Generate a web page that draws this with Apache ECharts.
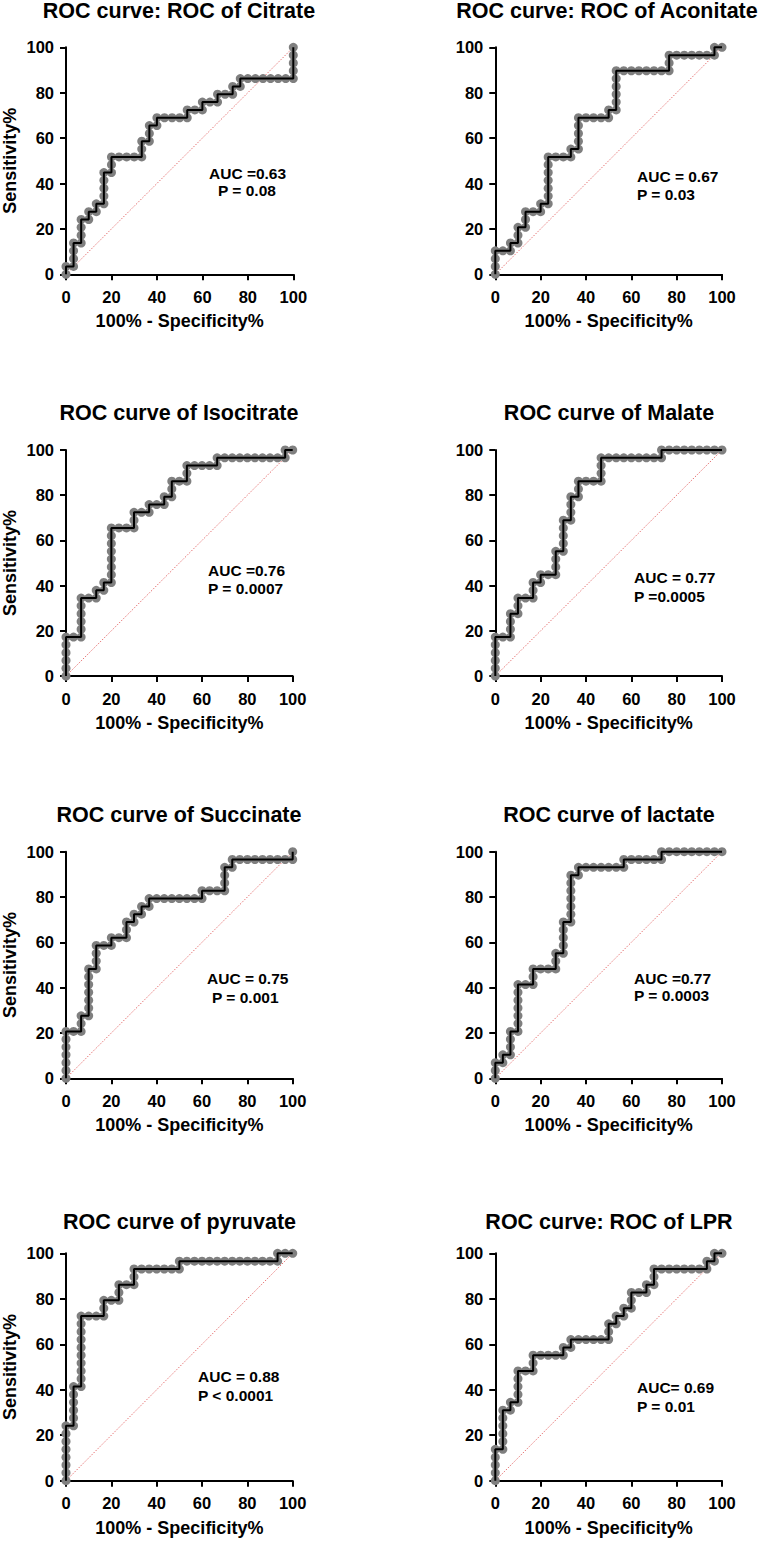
<!DOCTYPE html>
<html>
<head>
<meta charset="utf-8">
<script src="https://cdn.jsdelivr.net/npm/echarts@6/dist/echarts.min.js"></script>
<style>
html,body{margin:0;padding:0;background:#ffffff;}
#chart{width:760px;height:1542px;}
</style>
</head>
<body>
<div id="chart"></div>
<script>
// ---------------- DATA ----------------
const panelTitles = [
  'ROC curve: ROC of Citrate', 'ROC curve: ROC of Aconitate',
  'ROC curve of Isocitrate', 'ROC curve of Malate',
  'ROC curve of Succinate', 'ROC curve of lactate',
  'ROC curve of pyruvate', 'ROC curve: ROC of LPR'
];
const aucLabels = ['AUC =0.63', 'AUC = 0.67', 'AUC =0.76', 'AUC = 0.77', 'AUC = 0.75', 'AUC =0.77', 'AUC = 0.88', 'AUC= 0.69'];
const pLabels = ['P = 0.08', 'P = 0.03', 'P = 0.0007', 'P =0.0005', 'P = 0.001', 'P = 0.0003', 'P < 0.0001', 'P = 0.01'];
const xAxisName = '100% - Specificity%';
const yAxisName = 'Sensitivity%';

// [100% - Specificity%, Sensitivity%]
const citrate = [[0,0],[0,3.45],[3.33,3.45],[3.33,6.9],[3.33,10.34],[3.33,13.79],[6.67,13.79],[6.67,17.24],[6.67,20.69],[6.67,24.14],[10,24.14],[10,27.59],[13.33,27.59],[13.33,31.03],[16.67,31.03],[16.67,34.48],[16.67,37.93],[16.67,41.38],[16.67,44.83],[20,44.83],[20,48.28],[20,51.72],[23.33,51.72],[26.67,51.72],[30,51.72],[33.33,51.72],[33.33,55.17],[33.33,58.62],[36.67,58.62],[36.67,62.07],[36.67,65.52],[40,65.52],[40,68.97],[43.33,68.97],[46.67,68.97],[50,68.97],[53.33,68.97],[53.33,72.41],[56.67,72.41],[60,72.41],[60,75.86],[63.33,75.86],[66.67,75.86],[66.67,79.31],[70,79.31],[73.33,79.31],[73.33,82.76],[76.67,82.76],[76.67,86.21],[80,86.21],[83.33,86.21],[86.67,86.21],[90,86.21],[93.33,86.21],[96.67,86.21],[100,86.21],[100,89.66],[100,93.1],[100,96.55],[100,100]];

const aconitate = [[0,0],[0,3.45],[0,6.9],[0,10.34],[3.33,10.34],[6.67,10.34],[6.67,13.79],[10,13.79],[10,17.24],[10,20.69],[13.33,20.69],[13.33,24.14],[13.33,27.59],[16.67,27.59],[20,27.59],[20,31.03],[23.33,31.03],[23.33,34.48],[23.33,37.93],[23.33,41.38],[23.33,44.83],[23.33,48.28],[23.33,51.72],[26.67,51.72],[30,51.72],[33.33,51.72],[33.33,55.17],[36.67,55.17],[36.67,58.62],[36.67,62.07],[36.67,65.52],[36.67,68.97],[40,68.97],[43.33,68.97],[46.67,68.97],[50,68.97],[50,72.41],[53.33,72.41],[53.33,75.86],[53.33,79.31],[53.33,82.76],[53.33,86.21],[53.33,89.66],[56.67,89.66],[60,89.66],[63.33,89.66],[66.67,89.66],[70,89.66],[73.33,89.66],[76.67,89.66],[76.67,93.1],[76.67,96.55],[80,96.55],[83.33,96.55],[86.67,96.55],[90,96.55],[93.33,96.55],[96.67,96.55],[96.67,100],[100,100]];

const isocitrate = [[0,0],[0,3.45],[0,6.9],[0,10.34],[0,13.79],[0,17.24],[3.33,17.24],[6.67,17.24],[6.67,20.69],[6.67,24.14],[6.67,27.59],[6.67,31.03],[6.67,34.48],[10,34.48],[13.33,34.48],[13.33,37.93],[16.67,37.93],[16.67,41.38],[20,41.38],[20,44.83],[20,48.28],[20,51.72],[20,55.17],[20,58.62],[20,62.07],[20,65.52],[23.33,65.52],[26.67,65.52],[30,65.52],[30,68.97],[30,72.41],[33.33,72.41],[36.67,72.41],[36.67,75.86],[40,75.86],[43.33,75.86],[43.33,79.31],[46.67,79.31],[46.67,82.76],[46.67,86.21],[50,86.21],[53.33,86.21],[53.33,89.66],[53.33,93.1],[56.67,93.1],[60,93.1],[63.33,93.1],[66.67,93.1],[66.67,96.55],[70,96.55],[73.33,96.55],[76.67,96.55],[80,96.55],[83.33,96.55],[86.67,96.55],[90,96.55],[93.33,96.55],[96.67,96.55],[96.67,100],[100,100]];

const malate = [[0,0],[0,3.45],[0,6.9],[0,10.34],[0,13.79],[0,17.24],[3.33,17.24],[6.67,17.24],[6.67,20.69],[6.67,24.14],[6.67,27.59],[10,27.59],[10,31.03],[10,34.48],[13.33,34.48],[16.67,34.48],[16.67,37.93],[16.67,41.38],[20,41.38],[20,44.83],[23.33,44.83],[26.67,44.83],[26.67,48.28],[26.67,51.72],[26.67,55.17],[30,55.17],[30,58.62],[30,62.07],[30,65.52],[30,68.97],[33.33,68.97],[33.33,72.41],[33.33,75.86],[33.33,79.31],[36.67,79.31],[36.67,82.76],[36.67,86.21],[40,86.21],[43.33,86.21],[46.67,86.21],[46.67,89.66],[46.67,93.1],[46.67,96.55],[50,96.55],[53.33,96.55],[56.67,96.55],[60,96.55],[63.33,96.55],[66.67,96.55],[70,96.55],[73.33,96.55],[73.33,100],[76.67,100],[80,100],[83.33,100],[86.67,100],[90,100],[93.33,100],[96.67,100],[100,100]];

const succinate = [[0,0],[0,3.45],[0,6.9],[0,10.34],[0,13.79],[0,17.24],[0,20.69],[3.33,20.69],[6.67,20.69],[6.67,24.14],[6.67,27.59],[10,27.59],[10,31.03],[10,34.48],[10,37.93],[10,41.38],[10,44.83],[10,48.28],[13.33,48.28],[13.33,51.72],[13.33,55.17],[13.33,58.62],[16.67,58.62],[20,58.62],[20,62.07],[23.33,62.07],[26.67,62.07],[26.67,65.52],[26.67,68.97],[30,68.97],[30,72.41],[33.33,72.41],[33.33,75.86],[36.67,75.86],[36.67,79.31],[40,79.31],[43.33,79.31],[46.67,79.31],[50,79.31],[53.33,79.31],[56.67,79.31],[60,79.31],[60,82.76],[63.33,82.76],[66.67,82.76],[70,82.76],[70,86.21],[70,89.66],[70,93.1],[73.33,93.1],[73.33,96.55],[76.67,96.55],[80,96.55],[83.33,96.55],[86.67,96.55],[90,96.55],[93.33,96.55],[96.67,96.55],[100,96.55],[100,100]];

const lactate = [[0,0],[0,3.45],[0,6.9],[3.33,6.9],[3.33,10.34],[6.67,10.34],[6.67,13.79],[6.67,17.24],[6.67,20.69],[10,20.69],[10,24.14],[10,27.59],[10,31.03],[10,34.48],[10,37.93],[10,41.38],[13.33,41.38],[16.67,41.38],[16.67,44.83],[16.67,48.28],[20,48.28],[23.33,48.28],[26.67,48.28],[26.67,51.72],[26.67,55.17],[30,55.17],[30,58.62],[30,62.07],[30,65.52],[30,68.97],[33.33,68.97],[33.33,72.41],[33.33,75.86],[33.33,79.31],[33.33,82.76],[33.33,86.21],[33.33,89.66],[36.67,89.66],[36.67,93.1],[40,93.1],[43.33,93.1],[46.67,93.1],[50,93.1],[53.33,93.1],[56.67,93.1],[56.67,96.55],[60,96.55],[63.33,96.55],[66.67,96.55],[70,96.55],[73.33,96.55],[73.33,100],[76.67,100],[80,100],[83.33,100],[86.67,100],[90,100],[93.33,100],[96.67,100],[100,100]];

const pyruvate = [[0,0],[0,3.45],[0,6.9],[0,10.34],[0,13.79],[0,17.24],[0,20.69],[0,24.14],[3.33,24.14],[3.33,27.59],[3.33,31.03],[3.33,34.48],[3.33,37.93],[3.33,41.38],[6.67,41.38],[6.67,44.83],[6.67,48.28],[6.67,51.72],[6.67,55.17],[6.67,58.62],[6.67,62.07],[6.67,65.52],[6.67,68.97],[6.67,72.41],[10,72.41],[13.33,72.41],[16.67,72.41],[16.67,75.86],[16.67,79.31],[20,79.31],[23.33,79.31],[23.33,82.76],[23.33,86.21],[26.67,86.21],[30,86.21],[30,89.66],[30,93.1],[33.33,93.1],[36.67,93.1],[40,93.1],[43.33,93.1],[46.67,93.1],[50,93.1],[50,96.55],[53.33,96.55],[56.67,96.55],[60,96.55],[63.33,96.55],[66.67,96.55],[70,96.55],[73.33,96.55],[76.67,96.55],[80,96.55],[83.33,96.55],[86.67,96.55],[90,96.55],[93.33,96.55],[93.33,100],[96.67,100],[100,100]];

const lpr = [[0,0],[0,3.45],[0,6.9],[0,10.34],[0,13.79],[3.33,13.79],[3.33,17.24],[3.33,20.69],[3.33,24.14],[3.33,27.59],[3.33,31.03],[6.67,31.03],[6.67,34.48],[10,34.48],[10,37.93],[10,41.38],[10,44.83],[10,48.28],[13.33,48.28],[16.67,48.28],[16.67,51.72],[16.67,55.17],[20,55.17],[23.33,55.17],[26.67,55.17],[30,55.17],[30,58.62],[33.33,58.62],[33.33,62.07],[36.67,62.07],[40,62.07],[43.33,62.07],[46.67,62.07],[50,62.07],[50,65.52],[50,68.97],[53.33,68.97],[53.33,72.41],[56.67,72.41],[56.67,75.86],[60,75.86],[60,79.31],[60,82.76],[63.33,82.76],[66.67,82.76],[66.67,86.21],[70,86.21],[70,89.66],[70,93.1],[73.33,93.1],[76.67,93.1],[80,93.1],[83.33,93.1],[86.67,93.1],[90,93.1],[93.33,93.1],[93.33,96.55],[96.67,96.55],[96.67,100],[100,100]];

const referenceLine = [[0,0],[100,100]];
const curves = [citrate, aconitate, isocitrate, malate, succinate, lactate, pyruvate, lpr];

// ---------------- LAYOUT (positions / styles) ----------------
const FONT = '"Liberation Sans", Arial, Helvetica, sans-serif';
const grids = [
  {left:65.7, top:47.3, width:227.6, height:227},
  {left:495.3, top:47.3, width:226.7, height:227},
  {left:66, top:450, width:226.7, height:226},
  {left:495.3, top:450, width:226.7, height:226},
  {left:66, top:851.7, width:226.7, height:226.6},
  {left:495.3, top:851.7, width:226.7, height:226.6},
  {left:66, top:1253.3, width:226.7, height:227.4},
  {left:495.3, top:1253.3, width:226.7, height:227.4}
];
const titlePos = [[179,11],[607,11],[179,413],[609,413],[179,815],[609,815],[179.5,1222],[609,1222]];
const aucPos = [[209,173],[637,176],[208,570],[634,577],[207,978],[634,978],[198,1376],[637,1387.5]];
const pPos = [[218,190],[637,194.5],[208,588],[634,596],[212,997],[634,995.5],[198,1395],[637,1406]];
const showYName = [true,false,true,false,true,false,true,false];

const axisCommon = {
  min: 0, max: 100, interval: 20,
  axisLine: {show: true, onZero: false, lineStyle: {color: '#000', width: 2}},
  axisTick: {show: true, inside: false, length: 6, lineStyle: {color: '#000', width: 2}},
  splitLine: {show: false},
  nameTextStyle: {fontFamily: FONT, fontWeight: 'bold', fontSize: 18, color: '#000'}
};

const xAxes = [], yAxes = [], series = [], graphics = [];
grids.forEach((g, i) => {
  xAxes.push(Object.assign({}, axisCommon, {
    type: 'value', gridIndex: i,
    name: xAxisName, nameLocation: 'middle', nameGap: 38,
    axisLabel: {fontFamily: FONT, fontWeight: 'bold', fontSize: 16.5, color: '#000', margin: 14}
  }));
  yAxes.push(Object.assign({}, axisCommon, {
    type: 'value', gridIndex: i,
    name: showYName[i] ? yAxisName : '', nameLocation: 'middle', nameGap: 47,
    axisLabel: {fontFamily: FONT, fontWeight: 'bold', fontSize: 16.5, color: '#000', margin: 12}
  }));
  series.push({
    type: 'line', xAxisIndex: i, yAxisIndex: i, data: referenceLine,
    symbol: 'none', silent: true, z: 1,
    lineStyle: {color: '#e57373', width: 1, type: [1.5, 1.5]}
  });
  series.push({
    type: 'scatter', xAxisIndex: i, yAxisIndex: i, data: curves[i],
    symbol: 'circle', symbolSize: 9, clip: false, z: 2,
    itemStyle: {color: '#7f7f7f', opacity: 1}
  });
  series.push({
    type: 'line', xAxisIndex: i, yAxisIndex: i, data: curves[i],
    symbol: 'none', showSymbol: false, clip: false, z: 3,
    lineStyle: {color: '#000', width: 2}
  });
  graphics.push({
    type: 'text', x: titlePos[i][0], y: titlePos[i][1], z: 10,
    style: {text: panelTitles[i], fill: '#000', font: 'bold 21.5px ' + FONT, align: 'center', verticalAlign: 'middle'}
  });
  graphics.push({
    type: 'text', x: aucPos[i][0], y: aucPos[i][1], z: 10,
    style: {text: aucLabels[i], fill: '#000', font: 'bold 15.5px ' + FONT, align: 'left', verticalAlign: 'middle'}
  });
  graphics.push({
    type: 'text', x: pPos[i][0], y: pPos[i][1], z: 10,
    style: {text: pLabels[i], fill: '#000', font: 'bold 15.5px ' + FONT, align: 'left', verticalAlign: 'middle'}
  });
});

const chart = echarts.init(document.getElementById('chart'), null, {renderer: 'svg', width: 760, height: 1542});
chart.setOption({
  animation: false,
  backgroundColor: '#ffffff',
  grid: grids.map(g => Object.assign({containLabel: false}, g)),
  xAxis: xAxes,
  yAxis: yAxes,
  series: series,
  graphic: graphics
});
</script>
</body>
</html>
